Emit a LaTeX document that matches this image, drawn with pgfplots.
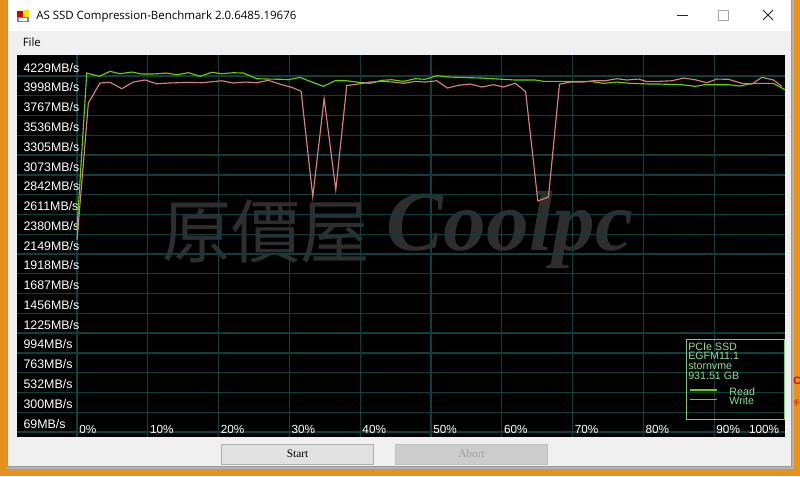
\documentclass[border=0pt]{standalone}
\usepackage{fontspec}
\setmainfont{Liberation Sans}
\newfontfamily\uifont{Open Sans}
\newfontfamily\serifui{Liberation Serif}
\newfontfamily\cjk{Noto Sans CJK TC}
\usepackage{pgfplots}
\usepackage{pgfplotstable}
\pgfplotsset{compat=1.18}

\definecolor{readc}{HTML}{64D400}
\definecolor{writec}{HTML}{DC8080}
\definecolor{gridc}{HTML}{0E3E3E}
\definecolor{legc}{HTML}{8EE08E}
\definecolor{legbox}{HTML}{7CCB7C}
\definecolor{orangebg}{HTML}{E8921E}
\definecolor{client}{HTML}{F0F0F0}
\definecolor{wm}{HTML}{2E2E2E}
\definecolor{btnfill}{HTML}{E1E1E1}
\definecolor{btndraw}{HTML}{ADADAD}
\definecolor{abfill}{HTML}{CCCCCC}
\definecolor{abdraw}{HTML}{BFBFBF}
\definecolor{abtext}{HTML}{A0A0A0}

\pgfplotstableread{
x y
0 2330
1.37 4148
3.15 4110
4.66 4168
6.08 4140
7.73 4160
9.14 4137
10.78 4137
12.67 4148
14.09 4128
15.72 4152
17.38 4110
19.03 4157
20.44 4140
22.08 4152
23.50 4148
25.39 4082
27.03 4078
28.92 4075
29.85 4070
31.51 4098
32.92 4051
34.80 3993
36.45 4058
38.10 4058
39.74 4040
41.40 4028
43.05 4063
44.46 4070
46.10 4051
47.75 4082
49.17 4075
50.82 4117
52.46 4102
54.50 4096
57.18 4090
59.52 4078
61.88 4067
64.71 4067
65.88 4051
68.24 4051
70.30 4051
72.48 4051
74.36 4028
76.25 4043
78.13 4028
80.95 4020
82.13 4020
83.80 4016
85.43 4012
87.31 3993
88.73 4012
90.38 4012
92.02 4012
93.67 3996
95.32 4028
96.80 4028
98.37 4028
100 3953
}\readtable

\pgfplotstableread{
x y
0 2200
1.60 3798
3.25 4032
4.66 4040
6.32 3965
7.95 4043
9.61 4067
11.26 4023
13.14 4032
15.72 4040
17.62 4035
20.44 4058
22.08 4032
23.74 4043
25.39 4035
27.03 4063
28.92 4012
30.33 3981
31.65 3935
33.30 2703
34.90 3850
36.55 2781
38.10 4002
39.74 4020
41.40 4043
43.05 4051
44.69 4043
46.10 4028
47.75 4051
49.17 4043
50.82 4058
52.32 3973
53.87 4005
55.52 4020
57.18 3985
58.82 4012
60.23 3985
61.88 4030
63.36 3932
65.09 2653
66.59 2699
68.14 4018
69.65 4043
71.53 4043
72.94 4058
74.60 4058
76.25 4082
77.66 4067
79.30 4078
80.40 4050
82.13 4051
84.02 4058
85.66 4090
87.31 4070
88.97 4035
90.38 4078
92.02 4075
93.91 4028
95.32 4020
96.74 4098
98.37 4067
99.56 3993
}\writetable

\begin{document}
\begin{tikzpicture}
\useasboundingbox (0,0) rectangle (600pt,-357pt);
\begin{scope}[x=0.75pt,y=-0.75pt]
  % background and window
  \fill[orangebg] (0,0) rectangle (800,476);
  \fill[black!30] (7,0) rectangle (793.5,469);
  \fill[white] (7,0) rectangle (792,31);
  \fill[client] (7,31) rectangle (792,467);
  \draw[black!40, line width=0.75pt] (7.5,0) -- (7.5,466.5) -- (791.5,466.5) -- (791.5,0);
  % background red text at right
  \node[anchor=west, inner sep=0pt, text=red!85!black] at (793,381) {\bfseries\fontsize{8}{8}\selectfont C};
  \node[anchor=west, inner sep=0pt, text=red!85!black] at (793,403) {\cjk\fontsize{5}{5}\selectfont 手};
  % icon
  \fill[red!80!black] (17,11) rectangle (22.5,16.5);
  \fill[yellow!85!orange] (22.5,10) rectangle (29,16.5);
  \fill[blue!55] (17,16.5) rectangle (29,22);
  \fill[white] (19,18) rectangle (27,20.5);
  % title
  \node[anchor=base west, inner sep=0pt] at (36,19.5) {\uifont\fontsize{8.6}{10}\selectfont AS SSD Compression-Benchmark 2.0.6485.19676};
  % window controls
  \draw[black!85, line width=0.75pt] (676.5,15.5) -- (687.5,15.5);
  \draw[black!35, line width=0.75pt] (718.5,10.5) rectangle (728.5,20.5);
  \draw[black!85, line width=0.75pt] (763,10) -- (773,20) (773,10) -- (763,20);
  % menu
  \node[anchor=base west, inner sep=0pt] at (22.5,46.7) {\uifont\fontsize{8.6}{10}\selectfont File};
  % chart background
  \fill[black] (17,55) rectangle (785,437);
  % watermark
  \node[text=wm, inner sep=0pt] at (266,231) {\cjk\fontsize{52}{52}\selectfont 原價屋};
  \node[text=wm, inner sep=0pt] at (510,230) {\serifui\bfseries\itshape\fontsize{64}{64}\selectfont Coolpc};
  % buttons
  \draw[fill=btnfill, draw=btndraw, line width=0.75pt] (221.5,444.5) rectangle (373.5,464.5);
  \node[anchor=base, inner sep=0pt] at (297.5,457.5) {\serifui\fontsize{8.5}{9}\selectfont Start};
  \draw[fill=abfill, draw=abdraw, line width=0.75pt] (395.5,444.5) rectangle (547.5,464.5);
  \node[anchor=base, inner sep=0pt, text=abtext] at (471.5,457.5) {\serifui\fontsize{8.5}{9}\selectfont Abort};
\end{scope}

\begin{axis}[
  at={(12.75pt,-327.75pt)}, anchor=south west,
  scale only axis, width=576pt, height=286.5pt,
  xmin=-8.48, xmax=100, ymin=-105, ymax=4359,
  axis line style={draw=none},
  tick style={draw=none},
  major tick length=0pt, minor tick length=0pt,
  xtick={0,10,20,30,40,50,60,70,80,90},
  xticklabels={0\%,10\%,20\%,30\%,40\%,50\%,60\%,70\%,80\%,90\%},
  extra x ticks={94.6},
  extra x tick labels={100\%},
  extra x tick style={grid=none},
  xmajorgrids=true,
  major grid style={gridc, line width=1pt},
  ytick={69,300,532,763,994,1225,1456,1687,1918,2149,2380,2611,2842,3073,3305,3536,3767,3998,4229},
  yticklabels={69MB/s,300MB/s,532MB/s,763MB/s,994MB/s,1225MB/s,1456MB/s,1687MB/s,1918MB/s,2149MB/s,2380MB/s,2611MB/s,2842MB/s,3073MB/s,3305MB/s,3536MB/s,3767MB/s,3998MB/s,4229MB/s},
  minor ytick={-46.6,184.5,415.6,646.7,877.8,1108.9,1340.1,1571.2,1802.3,2033.4,2264.5,2495.6,2726.7,2957.8,3188.9,3420.1,3651.2,3882.3,4113.4},
  ymajorgrids=false,
  yminorgrids=true,
  minor grid style={gridc, line width=1pt},
  xticklabel style={anchor=base west, inner sep=0pt, xshift=1.5pt, yshift=2.3pt, text=white, font=\fontsize{8.8}{10}\selectfont},
  yticklabel style={anchor=base west, inner sep=0pt, xshift=4.7pt, yshift=-4.5pt, text=white, font=\fontsize{9.3}{10}\selectfont},
  legend cell align=left,
  legend image code/.code={\draw[#1] (0pt,1.6pt) -- (20.5pt,1.6pt); \path (29.25pt,0pt);},
  legend style={at={(axis description cs:0.8754,0.1301)}, anchor=north west,
    draw=none, fill=none, inner sep=0pt, outer sep=0pt, row sep=0pt, column sep=0pt,
    font=\fontsize{8}{9}\selectfont,
    nodes={inner sep=0pt, text height=5.8pt, text depth=1.5pt, text=legc}},
]
\addplot[readc, line width=0.85pt, mark=none] table[x=x, y=y] {\readtable};
\addlegendentry{Read}
\addplot[writec, line width=0.85pt, mark=none] table[x=x, y=y] {\writetable};
\addlegendentry{Write}
\end{axis}

\begin{scope}[x=0.75pt,y=-0.75pt]
  \draw[legbox, line width=0.75pt] (686,339.5) rectangle (784.8,419.5);
  \node[anchor=base west, inner sep=0pt, text=legc] at (688,350) {\fontsize{8}{9}\selectfont PCIe SSD};
  \node[anchor=base west, inner sep=0pt, text=legc] at (688,359.7) {\fontsize{8}{9}\selectfont EGFM11.1};
  \node[anchor=base west, inner sep=0pt, text=legc] at (688,369.3) {\fontsize{8}{9}\selectfont stornvme};
  \node[anchor=base west, inner sep=0pt, text=legc] at (688,379) {\fontsize{8}{9}\selectfont 931.51 GB};
\end{scope}
\end{tikzpicture}
\end{document}
